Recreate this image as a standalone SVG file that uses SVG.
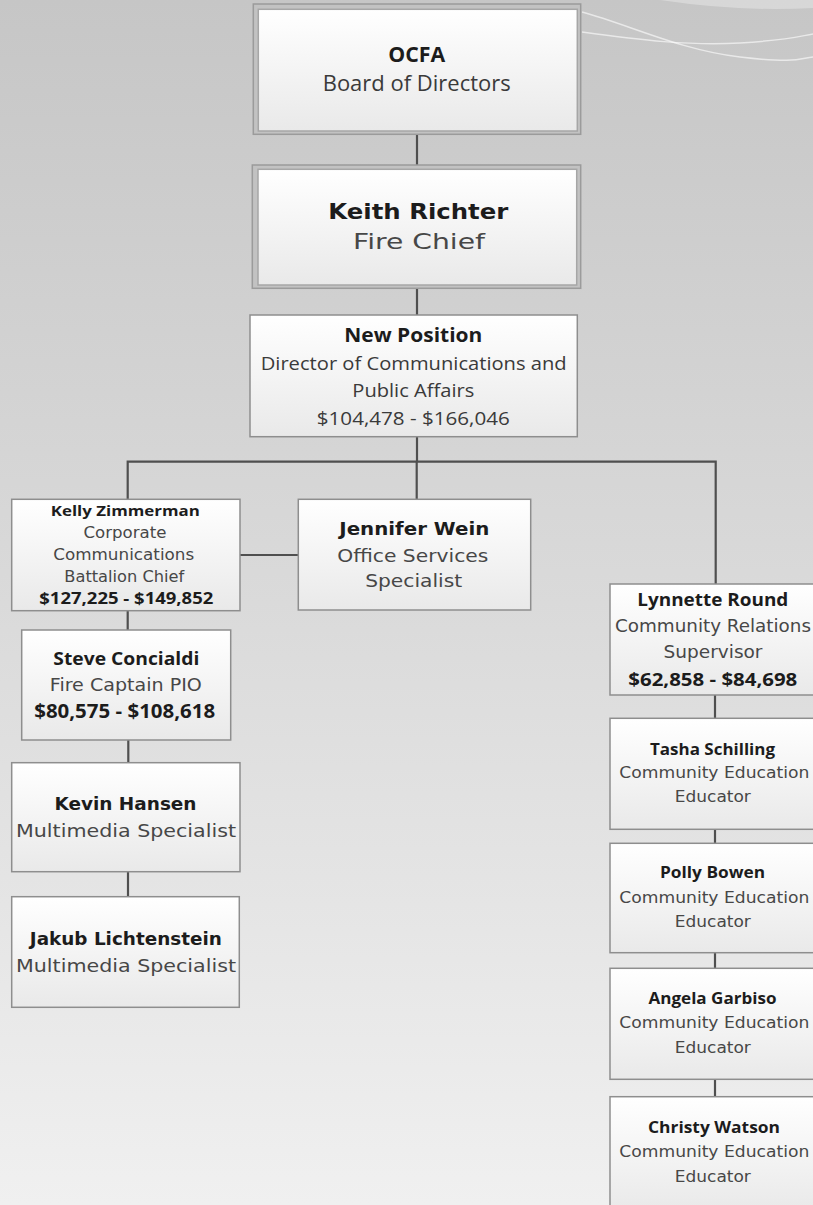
<svg xmlns="http://www.w3.org/2000/svg" width="813" height="1205" viewBox="0 0 813 1205">
<defs>
<linearGradient id="bg" x1="0" y1="0" x2="0" y2="1">
<stop offset="0" stop-color="#c6c6c6"/>
<stop offset="0.5" stop-color="#dadada"/>
<stop offset="1" stop-color="#f0f0f0"/>
</linearGradient>
<linearGradient id="box" x1="0" y1="0" x2="0" y2="1">
<stop offset="0" stop-color="#ffffff"/>
<stop offset="1" stop-color="#e9e9e9"/>
</linearGradient>
<style>
.box{fill:url(#box);stroke:#8e8e8e;stroke-width:1.5}
.frame{fill:#c2c2c2;stroke:#9b9b9b;stroke-width:1.5}
.inner{fill:url(#box);stroke:#a6a6a6;stroke-width:1.5}
.con{fill:none;stroke:#4f4f4f;stroke-width:2.2}
.deco{fill:none;stroke:#ffffff;stroke-opacity:0.6;stroke-width:1.5}
text{text-anchor:middle}
.cb{font-family:"Open Sans","Liberation Sans",sans-serif;font-weight:bold;fill:#1c1c1c}
.cr{font-family:"Open Sans","Liberation Sans",sans-serif;fill:#3a3a3a}
.vb{font-family:"DejaVu Sans","Liberation Sans",sans-serif;font-weight:bold;fill:#1c1c1c}
.vr{font-family:"DejaVu Sans","Liberation Sans",sans-serif;fill:#474747}
</style>
</defs>
<rect x="0" y="0" width="813" height="1205" fill="url(#bg)"/>
<path d="M660 0 Q 740 12 813 8 L813 0 Z" fill="#ffffff" fill-opacity="0.3"/>
<path class="deco" d="M582 12 C 630 25, 680 50, 740 57 S 800 58, 813 57"/>
<path class="deco" d="M582 32 C 640 40, 690 46, 740 43 S 800 36, 813 34"/>

<g id="connectors">
<path class="con" d="M417 134 V165"/>
<path class="con" d="M417 288 V315"/>
<path class="con" d="M417 437 V462"/>
<path class="con" d="M127.7 499 V461.7 H715.7 V584"/>
<path class="con" d="M416.7 461.7 V499.3"/>
<path class="con" d="M240 555 H298.3"/>
<path class="con" d="M127.7 610.7 V630"/>
<path class="con" d="M128.3 740 V762.7"/>
<path class="con" d="M128 871.7 V896.7"/>
<path class="con" d="M715 695 V718.3"/>
<path class="con" d="M715 829.3 V843.3"/>
<path class="con" d="M715 952.7 V968.3"/>
<path class="con" d="M715 1079.3 V1096.7"/>
</g>

<g id="ocfa">
<rect class="frame" x="253.3" y="4" width="327.4" height="130.3"/>
<rect class="inner" x="258.3" y="9.3" width="319" height="121.7"/>
<text class="cb" x="416.7" y="61.7" font-size="21" textLength="57" lengthAdjust="spacingAndGlyphs">OCFA</text>
<text class="cr" x="416.7" y="91" font-size="21" textLength="188" lengthAdjust="spacingAndGlyphs">Board of Directors</text>
</g>

<g id="keith">
<rect class="frame" x="252.3" y="165" width="328.4" height="123.3"/>
<rect class="inner" x="258" y="169.3" width="318.7" height="115.7"/>
<text class="vb" x="418.3" y="219.3" font-size="21" textLength="180" lengthAdjust="spacingAndGlyphs">Keith Richter</text>
<text class="vr" x="419" y="249.3" font-size="21" fill="#333" textLength="132" lengthAdjust="spacingAndGlyphs">Fire Chief</text>
</g>

<g id="newpos">
<rect class="box" x="250" y="315" width="327.3" height="121.7"/>
<text class="cb" x="413.3" y="341.7" font-size="19" textLength="138" lengthAdjust="spacingAndGlyphs">New Position</text>
<text class="cr" x="413.7" y="370" font-size="19" textLength="306" lengthAdjust="spacingAndGlyphs">Director of Communications and</text>
<text class="cr" x="413.3" y="397.3" font-size="19" textLength="122" lengthAdjust="spacingAndGlyphs">Public Affairs</text>
<text class="cr" x="413.3" y="425" font-size="19" textLength="193" lengthAdjust="spacingAndGlyphs">$104,478 - $166,046</text>
</g>

<g id="kelly">
<rect class="box" x="11.7" y="499.3" width="228.3" height="111.4"/>
<text class="cb" x="125.3" y="516" font-size="15" textLength="149" lengthAdjust="spacingAndGlyphs">Kelly Zimmerman</text>
<text class="vr" x="125" y="538.3" font-size="15" textLength="83" lengthAdjust="spacingAndGlyphs">Corporate</text>
<text class="vr" x="123.7" y="560" font-size="15" textLength="141" lengthAdjust="spacingAndGlyphs">Communications</text>
<text class="vr" x="124.3" y="581.7" font-size="15" textLength="120" lengthAdjust="spacingAndGlyphs">Battalion Chief</text>
<text class="cb" x="126.3" y="604" font-size="16" textLength="174" lengthAdjust="spacingAndGlyphs">$127,225 - $149,852</text>
</g>

<g id="jennifer">
<rect class="box" x="298.3" y="499.3" width="232.4" height="110.7"/>
<text class="vb" x="414.3" y="535" font-size="18" textLength="150" lengthAdjust="spacingAndGlyphs">Jennifer Wein</text>
<text class="vr" x="412.8" y="561.7" font-size="18" textLength="151" lengthAdjust="spacingAndGlyphs">Office Services</text>
<text class="vr" x="413.7" y="587.3" font-size="18" textLength="97" lengthAdjust="spacingAndGlyphs">Specialist</text>
</g>

<g id="steve">
<rect class="box" x="21.7" y="630" width="209" height="110"/>
<text class="cb" x="126.3" y="665" font-size="18" textLength="146" lengthAdjust="spacingAndGlyphs">Steve Concialdi</text>
<text class="vr" x="125.8" y="691" font-size="18" textLength="152" lengthAdjust="spacingAndGlyphs">Fire Captain PIO</text>
<text class="cb" x="124.7" y="718.3" font-size="19" textLength="181" lengthAdjust="spacingAndGlyphs">$80,575 - $108,618</text>
</g>

<g id="kevin">
<rect class="box" x="11.7" y="762.7" width="228.3" height="109"/>
<text class="vb" x="125.5" y="810" font-size="17" textLength="142" lengthAdjust="spacingAndGlyphs">Kevin Hansen</text>
<text class="vr" x="126" y="836.7" font-size="17" textLength="220" lengthAdjust="spacingAndGlyphs">Multimedia Specialist</text>
</g>

<g id="jakub">
<rect class="box" x="11.7" y="896.7" width="227.6" height="110.6"/>
<text class="vb" x="125.8" y="945" font-size="17" textLength="192" lengthAdjust="spacingAndGlyphs">Jakub Lichtenstein</text>
<text class="vr" x="126" y="971.7" font-size="17" textLength="220" lengthAdjust="spacingAndGlyphs">Multimedia Specialist</text>
</g>

<g id="lynnette">
<rect class="box" x="610" y="584" width="213" height="111"/>
<text class="cb" x="712.8" y="605.7" font-size="18" textLength="151" lengthAdjust="spacingAndGlyphs">Lynnette Round</text>
<text class="vr" x="713" y="631.7" font-size="17" textLength="196" lengthAdjust="spacingAndGlyphs">Community Relations</text>
<text class="vr" x="713" y="658.3" font-size="17" textLength="99" lengthAdjust="spacingAndGlyphs">Supervisor</text>
<text class="cb" x="712.8" y="686" font-size="18" textLength="169" lengthAdjust="spacingAndGlyphs">$62,858 - $84,698</text>
</g>

<g id="tasha">
<rect class="box" x="610" y="718.3" width="213" height="111"/>
<text class="cb" x="712.5" y="755" font-size="16" textLength="125" lengthAdjust="spacingAndGlyphs">Tasha Schilling</text>
<text class="vr" x="714.3" y="778.3" font-size="16" textLength="190" lengthAdjust="spacingAndGlyphs">Community Education</text>
<text class="vr" x="712.8" y="801.7" font-size="16" textLength="76" lengthAdjust="spacingAndGlyphs">Educator</text>
</g>

<g id="polly">
<rect class="box" x="610" y="843.3" width="213" height="109.4"/>
<text class="cb" x="712.5" y="878.3" font-size="16" textLength="105" lengthAdjust="spacingAndGlyphs">Polly Bowen</text>
<text class="vr" x="714.3" y="902.7" font-size="16" textLength="190" lengthAdjust="spacingAndGlyphs">Community Education</text>
<text class="vr" x="712.8" y="926.7" font-size="16" textLength="76" lengthAdjust="spacingAndGlyphs">Educator</text>
</g>

<g id="angela">
<rect class="box" x="610" y="968.3" width="213" height="111"/>
<text class="cb" x="712.5" y="1004" font-size="16" textLength="128" lengthAdjust="spacingAndGlyphs">Angela Garbiso</text>
<text class="vr" x="714.3" y="1028.3" font-size="16" textLength="190" lengthAdjust="spacingAndGlyphs">Community Education</text>
<text class="vr" x="712.8" y="1052.7" font-size="16" textLength="76" lengthAdjust="spacingAndGlyphs">Educator</text>
</g>

<g id="christy">
<rect class="box" x="610" y="1096.7" width="213" height="115"/>
<text class="cb" x="714" y="1133.3" font-size="16" textLength="132" lengthAdjust="spacingAndGlyphs">Christy Watson</text>
<text class="vr" x="714.3" y="1156.7" font-size="16" textLength="190" lengthAdjust="spacingAndGlyphs">Community Education</text>
<text class="vr" x="712.8" y="1181.7" font-size="16" textLength="76" lengthAdjust="spacingAndGlyphs">Educator</text>
</g>
</svg>
